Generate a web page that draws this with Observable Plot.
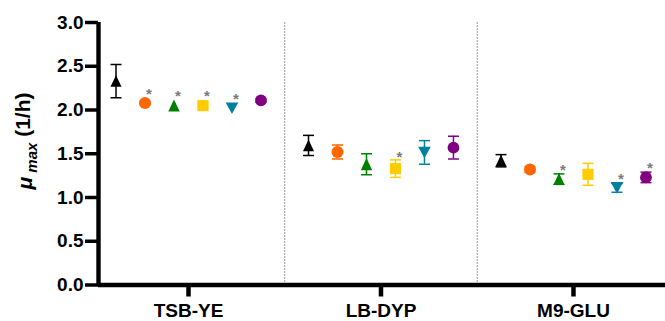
<!DOCTYPE html>
<html>
<head>
<meta charset="utf-8">
<script src="https://cdn.jsdelivr.net/npm/d3@7"></script>
<script src="https://cdn.jsdelivr.net/npm/@observablehq/plot@0.6"></script>
<style>
  html, body { margin: 0; padding: 0; background: #fff; }
  #chart svg { display: block; }
</style>
</head>
<body>
<div id="chart"></div>
<script>
// Growth media (x groups) and the six strains plotted within each group
const groups = ["TSB-YE", "LB-DYP", "M9-GLU"];
const strains = ["S1", "S2", "S3", "S4", "S5", "S6"];
const strainColors = ["#000000", "#ff6600", "#008000", "#ffcc00", "#00809f", "#800080"];

// Maximum specific growth rate (1/h): mean and error per strain
const tsbMean = [2.33, 2.08, 2.05, 2.05, 2.02, 2.11];
const tsbErr  = [0.19, 0.02, 0, 0.02, 0, 0.02];
const lbMean  = [1.595, 1.52, 1.38, 1.33, 1.515, 1.57];
const lbErr   = [0.115, 0.08, 0.12, 0.10, 0.135, 0.13];
const m9Mean  = [1.42, 1.32, 1.21, 1.265, 1.11, 1.23];
const m9Err   = [0.07, 0.03, 0.06, 0.125, 0.05, 0.06];

// Significance markers (asterisk) per strain
const tsbSig = [false, true, true, true, true, false];
const lbSig  = [false, false, false, true, false, false];
const m9Sig  = [false, false, true, false, true, true];

const yTicks = [0, 0.5, 1, 1.5, 2, 2.5, 3];

// ---- marker shapes ----
const rOf = size => Math.sqrt(size / Math.PI);
const triUp = {draw(ctx, size) {
  const r = rOf(size);
  ctx.moveTo(0, -r); ctx.lineTo(0.92 * r, 0.95 * r); ctx.lineTo(-0.92 * r, 0.95 * r); ctx.closePath();
}};
const triDown = {draw(ctx, size) {
  const r = rOf(size);
  ctx.moveTo(-r, -0.92 * r); ctx.lineTo(r, -0.92 * r); ctx.lineTo(0, 0.92 * r); ctx.closePath();
}};
const square = {draw(ctx, size) {
  const r = rOf(size) * 0.9;
  ctx.rect(-r, -r, 2 * r, 2 * r);
}};
const cap = {draw(ctx, size) {
  const r = rOf(size);
  ctx.moveTo(-r, 0); ctx.lineTo(r, 0);
}};
const strainSymbols = [triUp, "circle", triUp, square, triDown, "circle"];
const strainRadius = [6, 6, 6.2, 6.2, 6.3, 5.9];

// ---- tidy rows ----
const groupData = [
  [tsbMean, tsbErr, tsbSig],
  [lbMean, lbErr, lbSig],
  [m9Mean, m9Err, m9Sig]
];
const spread = 0.1506; // horizontal spacing between strains inside a group
const rows = groupData.flatMap(([mean, err, sig], g) =>
  strains.map((s, i) => ({
    group: groups[g],
    strain: s,
    si: i,
    x: g + (i - 2.5) * spread,
    v: mean[i],
    e: err[i],
    sig: sig[i],
    color: strainColors[i]
  }))
);
const withErr = rows.filter(d => d.e > 0);

const font = "'Liberation Sans', Arial, Helvetica, sans-serif";
const xDomain = [-0.4675, 2.478];

const marks = [
  // dotted separators between media
  Plot.ruleX([0.5, 1.5], {y1: 0, y2: 3, stroke: "#333", strokeWidth: 1, strokeDasharray: "1,2"}),
  // error bars
  Plot.ruleX(withErr, {x: "x", y1: d => d.v - d.e, y2: d => d.v + d.e, stroke: "color", strokeWidth: 1.5}),
  Plot.dot(withErr, {x: "x", y: d => d.v + d.e, symbol: cap, r: 5.5, stroke: "color", strokeWidth: 1.5, fill: "none"}),
  Plot.dot(withErr, {x: "x", y: d => d.v - d.e, symbol: cap, r: 5.5, stroke: "color", strokeWidth: 1.5, fill: "none"}),
  // markers, one mark per strain shape
  ...strains.map((s, i) => Plot.dot(rows.filter(d => d.si === i), {
    x: "x", y: "v", symbol: strainSymbols[i], r: strainRadius[i], fill: "color", stroke: "none"
  })),
  // significance asterisks, just above the marker or its error bar
  Plot.text(rows.filter(d => d.sig), {
    x: "x", y: d => d.v + Math.max(d.e, 0.07), text: () => "*", dx: 4, dy: -3,
    fill: "#7a7a7a", fontSize: 15, fontWeight: "bold"
  }),
  // axes
  Plot.axisY({ticks: yTicks, tickFormat: d3.format(".1f"), tickSize: 13, tickPadding: 2,
    strokeWidth: 3.5, fontSize: 19, fontWeight: "bold", label: null}),
  Plot.axisX({ticks: [0, 1, 2], tickFormat: i => groups[i], tickSize: 12, tickPadding: 6,
    strokeWidth: 4.5, fontSize: 19, fontWeight: "bold", label: null}),
  Plot.ruleY([0], {stroke: "#000", strokeWidth: 4.4}),
  Plot.ruleX([xDomain[0]], {y1: 0, y2: 3, stroke: "#000", strokeWidth: 4.4})
];

const svg = Plot.plot({
  width: 665,
  height: 321,
  marginLeft: 98,
  marginRight: 0,
  marginTop: 22,
  marginBottom: 36.5,
  style: {fontFamily: font, color: "#000", background: "#fff", overflow: "visible"},
  x: {type: "linear", domain: xDomain},
  y: {domain: [0, 3]},
  color: {type: "identity"},
  marks
});

// y-axis title with subscript
const title = d3.select(svg).append("text")
  .attr("transform", "translate(32,141) rotate(-90)")
  .attr("text-anchor", "middle")
  .attr("font-family", font)
  .attr("font-weight", "bold")
  .attr("font-size", 21)
  .attr("fill", "#000");
title.append("tspan").attr("font-style", "italic").text("μ");
title.append("tspan").attr("font-style", "italic").attr("font-size", 15).attr("dy", "0.3em").text(" max");
title.append("tspan").attr("dy", "-0.3em").text(" (1/h)");

document.getElementById("chart").appendChild(svg);
</script>
</body>
</html>
